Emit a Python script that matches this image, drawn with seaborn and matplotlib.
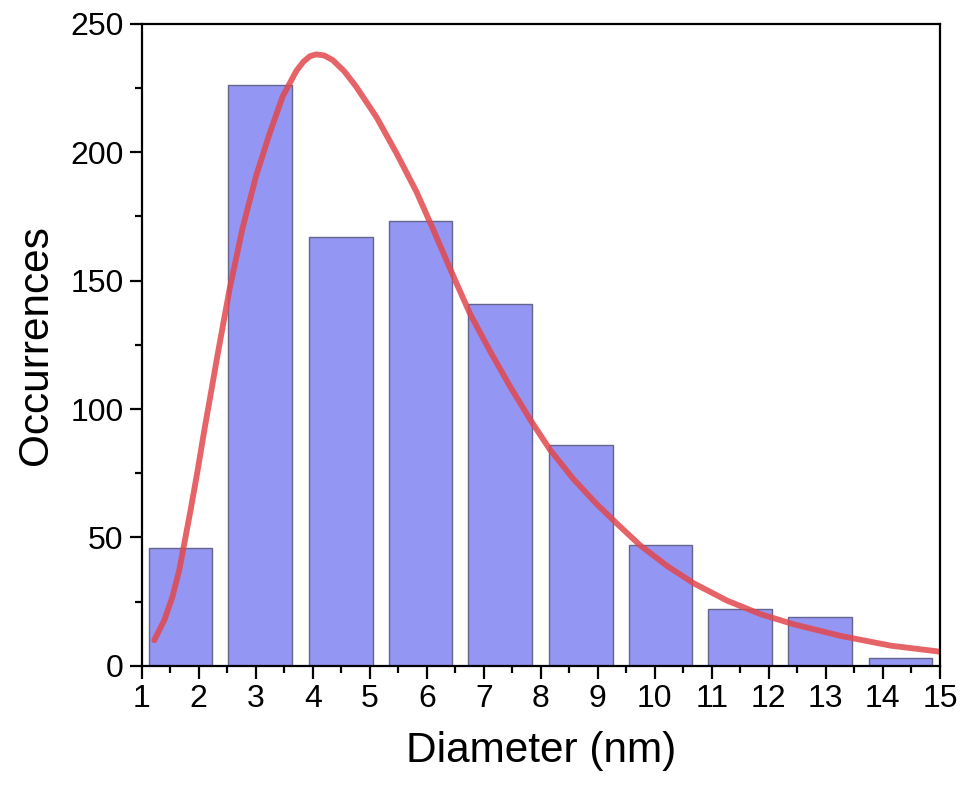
import matplotlib
matplotlib.use("Agg")
import matplotlib.pyplot as plt
import seaborn as sns
import pandas as pd
from matplotlib.ticker import MultipleLocator

# Histogram data (bin centres in nm, counts)
bin_centers = [1.68, 3.08, 4.49, 5.89, 7.29, 8.70, 10.10, 11.50, 12.90, 14.31]
counts = [46, 226, 167, 173, 141, 86, 47, 22, 19, 3]

# Fitted distribution curve
fit_x = [1.22, 1.40, 1.54, 1.66, 1.75, 1.86, 1.98, 2.10, 2.22, 2.33, 2.54, 2.77,
         3.01, 3.24, 3.47, 3.71, 3.83, 3.95, 4.06, 4.20, 4.35, 4.55, 4.76, 5.12,
         5.47, 5.82, 6.11, 6.46, 6.76, 7.11, 7.46, 7.81, 8.16, 8.57, 8.98, 9.33,
         9.74, 10.21, 10.68, 11.27, 11.85, 12.44, 13.26, 14.14, 14.99]
fit_y = [10.0, 18.0, 27.0, 37.5, 48.0, 61.0, 76.0, 92.0, 107.0, 121.0, 146.5, 170.5,
         191.0, 207.0, 221.5, 231.5, 235.0, 237.3, 238.0, 237.6, 235.8, 231.5, 225.5, 213.5,
         199.5, 184.5, 170.0, 152.0, 137.0, 122.5, 108.8, 96.0, 84.2, 72.8, 63.0, 55.5,
         47.0, 39.0, 32.2, 25.4, 20.2, 16.2, 11.7, 7.9, 5.6]

x_ticks = list(range(1, 16))
y_ticks = [0, 50, 100, 150, 200, 250]

sns.set_theme(style="ticks")
plt.rcParams['font.family'] = ['Liberation Sans', 'DejaVu Sans']
plt.rcParams['text.color'] = 'black'
plt.rcParams['axes.labelcolor'] = 'black'

fig = plt.figure(figsize=(9.64, 7.86), dpi=100)
ax = fig.add_axes([0.147, 0.1527, 0.828, 0.8173])

bars = pd.DataFrame({"Diameter": bin_centers, "Occurrences": counts})
sns.barplot(data=bars, x="Diameter", y="Occurrences", native_scale=True, width=0.8,
            color="#9496f4", saturation=1, edgecolor="#64648c", linewidth=1.0, ax=ax)

fit = pd.DataFrame({"x": fit_x, "y": fit_y})
sns.lineplot(data=fit, x="x", y="y", color="#e2484c", alpha=0.85, linewidth=4.2, ax=ax,
             solid_capstyle="round", solid_joinstyle="round")

ax.set_xlim(1, 15)
ax.set_ylim(0, 250)
ax.set_xticks(x_ticks)
ax.set_xticklabels([str(t) for t in x_ticks])
ax.set_yticks(y_ticks)
ax.xaxis.set_minor_locator(MultipleLocator(0.5))
ax.yaxis.set_minor_locator(MultipleLocator(25))

for s in ax.spines.values():
    s.set_linewidth(1.6)
    s.set_color("black")
    s.set_visible(True)

ax.tick_params(axis="both", which="major", direction="out", length=9, width=1.6,
               labelsize=23, colors="black", pad=4)
ax.tick_params(axis="both", which="minor", direction="out", length=5, width=1.6,
               colors="black")
ax.tick_params(top=False, right=False, which="both")

ax.set_xlabel("Diameter (nm)", fontsize=30.5, labelpad=12, color="black")
ax.set_ylabel("Occurrences", fontsize=30.5, labelpad=10, color="black")

fig.savefig("out.png", dpi=100)
